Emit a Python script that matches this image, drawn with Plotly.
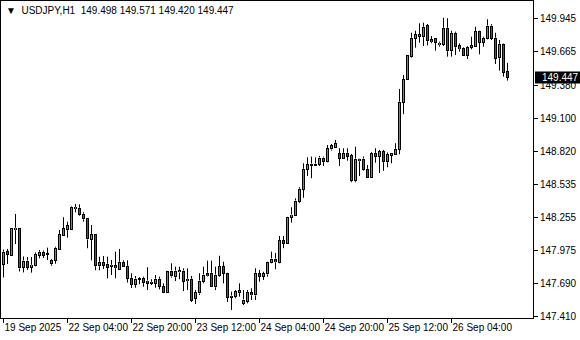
import plotly.graph_objects as go

# ---------------- data (USDJPY H1) ----------------
opens = [147.856, 147.964, 147.935, 148.151, 148.157, 147.833, 147.884, 147.829, 147.844, 147.935,
         147.959, 147.948, 147.861, 147.890, 147.981, 148.100, 148.151, 148.151, 148.331, 148.333,
         148.282, 148.248, 148.066, 148.112, 147.844, 147.873, 147.856, 147.848, 147.844, 147.810,
         147.873, 147.839, 147.737, 147.686, 147.729, 147.737, 147.714, 147.703, 147.694, 147.729,
         147.663, 147.617, 147.799, 147.751, 147.791, 147.799, 147.729, 147.729, 147.567, 147.612,
         147.708, 147.780, 147.780, 147.665, 147.765, 147.837, 147.780, 147.586, 147.581, 147.620,
         147.524, 147.538, 147.612, 147.595, 147.778, 147.752, 147.774, 147.873, 147.901, 147.873,
         148.055, 148.035, 148.257, 148.276, 148.389, 148.495, 148.665, 148.702, 148.710, 148.708,
         148.761, 148.730, 148.838, 148.853, 148.796, 148.761, 148.801, 148.779, 148.568, 148.752,
         148.752, 148.665, 148.597, 148.801, 148.774, 148.815, 148.730, 148.784, 148.793, 148.836,
         149.236, 149.426, 149.624, 149.781, 149.800, 149.794, 149.888, 149.766, 149.775, 149.726,
         149.730, 149.866, 149.675, 149.823, 149.715, 149.695, 149.633, 149.704, 149.709, 149.837,
         149.747, 149.781, 149.885, 149.781, 149.615, 149.730, 149.498]
highs = [147.982, 147.987, 148.168, 148.285, 148.161, 147.923, 147.918, 147.918, 147.957, 147.978,
         147.974, 147.998, 147.901, 148.006, 148.148, 148.257, 148.219, 148.353, 148.370, 148.367,
         148.299, 148.253, 148.191, 148.117, 147.921, 147.927, 147.921, 147.893, 147.964, 147.987,
         147.890, 147.890, 147.780, 147.757, 147.746, 147.751, 147.831, 147.729, 147.765, 147.751,
         147.694, 147.802, 147.865, 147.836, 147.836, 147.822, 147.822, 147.757, 147.637, 147.780,
         147.836, 147.887, 147.887, 147.836, 147.929, 147.878, 147.782, 147.623, 147.637, 147.694,
         147.637, 147.637, 147.652, 147.822, 147.808, 147.793, 147.878, 147.964, 147.953, 148.097,
         148.097, 148.263, 148.342, 148.418, 148.512, 148.716, 148.767, 148.773, 148.767, 148.779,
         148.773, 148.872, 148.881, 148.915, 148.844, 148.844, 148.844, 148.796, 148.858, 148.753,
         148.774, 148.702, 148.812, 148.844, 148.830, 148.830, 148.808, 148.801, 148.887, 149.349,
         149.468, 149.634, 149.828, 149.845, 149.908, 149.914, 149.902, 149.800, 149.781, 149.752,
         149.955, 149.951, 149.845, 149.837, 149.738, 149.704, 149.715, 149.794, 149.879, 149.845,
         149.794, 149.942, 149.902, 149.828, 149.766, 149.738, 149.571]
lows = [147.744, 147.859, 147.927, 148.029, 147.795, 147.787, 147.808, 147.785, 147.838, 147.907,
        147.910, 147.893, 147.844, 147.861, 147.976, 148.097, 148.083, 148.146, 148.299, 148.270,
        148.219, 147.993, 147.890, 147.805, 147.805, 147.816, 147.737, 147.765, 147.737, 147.805,
        147.833, 147.701, 147.654, 147.657, 147.686, 147.665, 147.637, 147.680, 147.657, 147.643,
        147.612, 147.612, 147.742, 147.714, 147.729, 147.629, 147.637, 147.535, 147.518, 147.595,
        147.694, 147.751, 147.665, 147.637, 147.751, 147.694, 147.535, 147.467, 147.567, 147.581,
        147.510, 147.524, 147.552, 147.552, 147.708, 147.723, 147.751, 147.865, 147.814, 147.865,
        147.993, 148.029, 148.211, 148.270, 148.376, 148.423, 148.608, 148.589, 148.693, 148.693,
        148.693, 148.723, 148.824, 148.849, 148.693, 148.753, 148.738, 148.555, 148.555, 148.608,
        148.653, 148.593, 148.593, 148.721, 148.634, 148.653, 148.682, 148.716, 148.787, 148.793,
        149.134, 149.421, 149.615, 149.701, 149.743, 149.715, 149.721, 149.738, 149.675, 149.709,
        149.715, 149.624, 149.624, 149.638, 149.667, 149.630, 149.604, 149.687, 149.704, 149.644,
        149.709, 149.772, 149.766, 149.562, 149.505, 149.454, 149.420]
closes = [147.959, 147.941, 148.163, 148.163, 147.825, 147.884, 147.829, 147.848, 147.941, 147.959,
          147.935, 147.940, 147.890, 147.993, 148.106, 148.157, 148.185, 148.344, 148.340, 148.282,
          148.242, 148.072, 148.112, 147.844, 147.873, 147.850, 147.833, 147.839, 147.827, 147.873,
          147.839, 147.737, 147.686, 147.731, 147.735, 147.700, 147.694, 147.694, 147.729, 147.671,
          147.617, 147.799, 147.757, 147.799, 147.802, 147.714, 147.717, 147.552, 147.617, 147.714,
          147.765, 147.759, 147.671, 147.765, 147.837, 147.780, 147.575, 147.575, 147.623, 147.629,
          147.552, 147.617, 147.597, 147.780, 147.752, 147.778, 147.870, 147.901, 147.878, 148.055,
          148.035, 148.257, 148.276, 148.395, 148.495, 148.665, 148.702, 148.710, 148.702, 148.761,
          148.730, 148.838, 148.866, 148.881, 148.761, 148.801, 148.774, 148.568, 148.752, 148.738,
          148.665, 148.597, 148.801, 148.774, 148.815, 148.730, 148.787, 148.796, 148.836, 149.236,
          149.426, 149.630, 149.781, 149.809, 149.809, 149.874, 149.760, 149.752, 149.747, 149.738,
          149.866, 149.675, 149.823, 149.709, 149.692, 149.633, 149.704, 149.715, 149.837, 149.747,
          149.781, 149.885, 149.781, 149.610, 149.730, 149.491, 149.447]

bar_index = list(range(len(opens)))
x_tick_bars = [0, 16, 32, 48, 64, 80, 96, 112]
x_tick_labels = ["19 Sep 2025", "22 Sep 04:00", "22 Sep 20:00", "23 Sep 12:00",
                 "24 Sep 04:00", "24 Sep 20:00", "25 Sep 12:00", "26 Sep 04:00"]
y_tick_vals = [149.945, 149.665, 149.380, 149.100, 148.820, 148.535, 148.255, 147.975, 147.690, 147.410]
symbol_title = "USDJPY,H1"
last_ohlc = [149.498, 149.571, 149.420, 149.447]

FONT = "Liberation Sans, Arial, sans-serif"
UP_FILL = "#3cb043"
DOWN_FILL = "#e01b1b"

W, H = 580, 340
M = dict(l=1, r=47, t=1, b=22)
Y_RANGE = [147.399, 150.098]
# price span of one screen pixel (used for the 1 px outline of the bodies)
PX = (Y_RANGE[1] - Y_RANGE[0]) / (H - M["t"] - M["b"])

body_lo = [min(o, c) for o, c in zip(opens, closes)]
body_hi = [max(o, c) for o, c in zip(opens, closes)]
body_col = [UP_FILL if c >= o else DOWN_FILL for o, c in zip(opens, closes)]
outer_base = [lo - 0.5 * PX for lo in body_lo]
outer_len = [hi - lo + PX for hi, lo in zip(body_hi, body_lo)]
inner_base = [lo + 0.5 * PX for lo in body_lo]
inner_len = [max(hi - lo - PX, 0) for hi, lo in zip(body_hi, body_lo)]

# wicks: low -> body bottom, body top -> high
wick_x, wick_y = [], []
for i in bar_index:
    wick_x += [i, i, None, i, i, None]
    wick_y += [lows[i], outer_base[i], None, outer_base[i] + outer_len[i], highs[i], None]

fig = go.Figure()
fig.add_trace(go.Bar(x=bar_index, base=outer_base, y=outer_len, width=0.75,
                     marker=dict(color="black", line=dict(width=0)), hoverinfo="skip"))
fig.add_trace(go.Bar(x=bar_index, base=inner_base, y=inner_len, width=0.25,
                     marker=dict(color=body_col, line=dict(width=0)), hoverinfo="skip"))
fig.add_trace(go.Scatter(x=wick_x, y=wick_y, mode="lines",
                         line=dict(color="black", width=1), hoverinfo="skip"))

fig.update_layout(
    width=W, height=H,
    margin=M,
    paper_bgcolor="white", plot_bgcolor="white",
    showlegend=False,
    barmode="overlay", bargap=0, bargroupgap=0,
    font=dict(family=FONT, size=10, color="black"),
    xaxis=dict(
        range=[-0.625, 132.375],
        showgrid=False, zeroline=False,
        showline=True, linecolor="black", linewidth=1, mirror=True,
        tickmode="array", tickvals=x_tick_bars, ticktext=x_tick_labels,
        ticks="outside", ticklen=4, tickcolor="black", tickwidth=1,
        tickangle=0,
        ticklabelposition="outside right",
        tickfont=dict(family=FONT, size=10, color="black"),
    ),
    yaxis=dict(
        range=Y_RANGE, side="right",
        showgrid=False, zeroline=False,
        showline=True, linecolor="black", linewidth=1, mirror=True,
        tickmode="array", tickvals=y_tick_vals,
        ticktext=[f"{v:.3f}" for v in y_tick_vals],
        ticks="outside", ticklen=4, tickcolor="black", tickwidth=1,
        tickfont=dict(family=FONT, size=10, color="black"),
    ),
)

# header line inside the chart
header = "\u25BC\u00a0\u00a0" + symbol_title + "\u00a0\u00a0" + " ".join(f"{v:.3f}" for v in last_ohlc)
fig.add_annotation(xref="paper", yref="paper", x=0, y=1, xanchor="left", yanchor="top",
                   xshift=3, yshift=-2, text=header, showarrow=False,
                   font=dict(family=FONT, size=10, color="black"))

# current price marker on the price scale
last_close = closes[-1]
fig.add_shape(type="rect", xref="paper", yref="y", x0=1.0038, x1=1.1, y0=last_close - 0.051,
              y1=last_close + 0.051, fillcolor="black", line=dict(width=0), layer="above")
fig.add_annotation(xref="paper", yref="y", x=1, y=last_close, xanchor="left", yanchor="middle",
                   xshift=7, text=f"{last_close:.3f}", showarrow=False,
                   font=dict(family=FONT, size=10, color="white"))

fig.write_html("out.html")
